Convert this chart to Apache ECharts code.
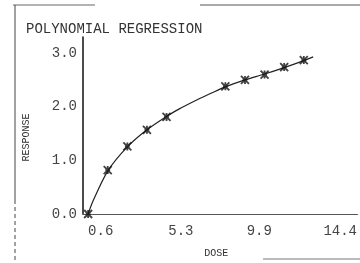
<!DOCTYPE html>
<html>
<head>
<meta charset="utf-8">
<script src="https://cdn.jsdelivr.net/npm/echarts@6/dist/echarts.min.js"></script>
<style>
  html, body { margin: 0; padding: 0; background: #fff; }
  #chart { width: 360px; height: 263px; }
</style>
</head>
<body>
<div id="chart"></div>
<script>
// observed points (dose, response)
var doses = [0.6, 1.75, 2.9, 4.05, 5.2, 8.65, 9.8, 10.95, 12.1, 13.25];
var responses = [0.0, 0.82, 1.26, 1.57, 1.81, 2.38, 2.50, 2.60, 2.74, 2.87];
// fitted curve
var fitDoses = [0.6, 0.9, 1.75, 2.9, 4.05, 5.2, 5.95, 7.0, 7.87, 8.65, 9.8, 10.95, 12.1, 13.25, 13.8];
var fitValues = [0.0, 0.25, 0.80, 1.25, 1.57, 1.82, 1.96, 2.13, 2.26, 2.37, 2.50, 2.61, 2.73, 2.86, 2.93];
var xTicks = [0.6, 5.3, 9.9, 14.4];
var yTicks = [0, 1, 2, 3];

var chart = echarts.init(document.getElementById('chart'));
var mono = 'Liberation Mono';
var ink = '#222';

var pts = doses.map(function (d, i) { return [d, responses[i]]; });
var fit = fitDoses.map(function (d, i) { return [d, fitValues[i]]; });

chart.setOption({
  animation: false,
  backgroundColor: '#fff',
  title: {
    text: 'POLYNOMIAL REGRESSION',
    left: 21, top: 17,
    textStyle: { fontFamily: mono, fontSize: 14, fontWeight: 'normal', color: '#333' }
  },
  grid: { left: 83, right: 0, top: 37, bottom: 45 },
  xAxis: {
    type: 'value',
    min: 0.3, max: 16.4,
    name: 'DOSE',
    nameLocation: 'middle',
    nameGap: 34,
    nameTextStyle: { fontFamily: mono, fontSize: 10, color: '#333', padding: [0, 0, 0, -8] },
    splitLine: { show: false },
    axisLine: { lineStyle: { color: '#555', width: 1 } },
    axisTick: { show: false },
    axisLabel: {
      customValues: xTicks,
      align: 'left',
      margin: 10,
      fontFamily: mono, fontSize: 14, color: '#444',
      formatter: function (v) { return v.toFixed(1); }
    }
  },
  yAxis: {
    type: 'value',
    min: 0, max: 3.3,
    name: 'RESPONSE',
    nameLocation: 'middle',
    nameRotate: 90,
    nameGap: 52,
    nameTextStyle: { fontFamily: mono, fontSize: 10, color: '#333', padding: [0, 24, 0, 0] },
    splitLine: { show: false },
    axisLine: { show: true, lineStyle: { color: '#111', width: 1.5 } },
    axisTick: { show: false },
    axisLabel: {
      customValues: yTicks,
      margin: 6,
      fontFamily: mono, fontSize: 14, color: '#444',
      formatter: function (v) { return v.toFixed(1); }
    }
  },
  graphic: [
    { type: 'line', shape: { x1: 13, y1: 5, x2: 95, y2: 5 }, style: { stroke: '#666', lineWidth: 1 } },
    { type: 'line', shape: { x1: 200, y1: 5, x2: 360, y2: 5 }, style: { stroke: '#555', lineWidth: 1 } },
    { type: 'line', shape: { x1: 15, y1: 5, x2: 15, y2: 200 }, style: { stroke: '#444', lineWidth: 1 } },
    { type: 'line', shape: { x1: 15, y1: 200, x2: 15, y2: 263 }, style: { stroke: '#444', lineWidth: 1, lineDash: [4, 3] } },
    { type: 'line', shape: { x1: 263, y1: 259, x2: 360, y2: 259 }, style: { stroke: '#777', lineWidth: 1 } }
  ],
  series: [
    {
      name: 'fit',
      type: 'line',
      data: fit,
      smooth: 0.3,
      showSymbol: false,
      lineStyle: { color: ink, width: 1.2 },
      z: 2
    },
    {
      name: 'observed',
      type: 'scatter',
      data: pts,
      symbol: 'path://M0 0L10 10M10 0L0 10M5 0L5 10M2 5L8 5',
      symbolSize: 8,
      itemStyle: { color: 'none', borderColor: '#111', borderWidth: 1.8 },
      z: 3
    }
  ]
});
</script>
</body>
</html>
